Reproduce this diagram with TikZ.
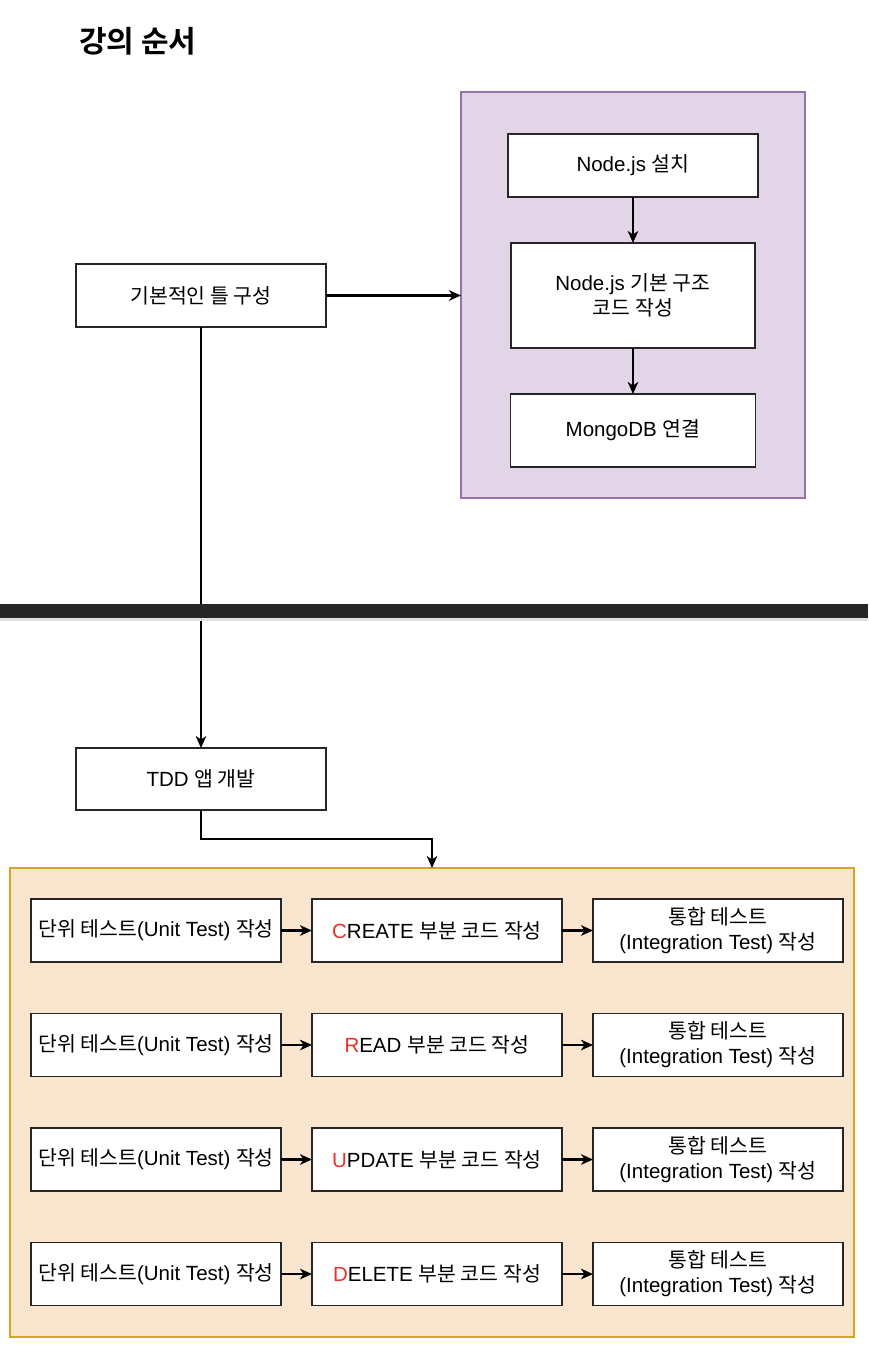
\documentclass[tikz,border=0pt]{standalone}
\usepackage{fontspec}
\setmainfont{Liberation Sans}
\newfontfamily\krfont{Noto Sans CJK KR}
\newfontfamily\krboldfont{Noto Sans CJK KR Bold}
\newcommand{\kr}[1]{{\krfont #1}}
\usetikzlibrary{arrows.meta}
\definecolor{purplefill}{HTML}{E1D5E7}
\definecolor{purpleline}{HTML}{9673A6}
\definecolor{orangefill}{HTML}{FAE6CE}
\definecolor{orangeline}{HTML}{D7A22A}
\definecolor{barcol}{HTML}{262626}
\definecolor{redletter}{HTML}{E6322A}
\tikzset{
  box/.style={draw=black!85, line width=1.1pt, fill=white, inner sep=0pt, outer sep=0pt,
    minimum width=250pt, minimum height=63pt, align=center,
    font=\fontsize{20.5}{25}\selectfont},
  container/.style={inner sep=0pt, outer sep=0pt, line width=1.1pt},
  conn/.style={line width=2.2pt, -{Stealth[length=12pt,width=10.5pt,inset=3.5pt]}},
}
\newcommand{\rl}[1]{\textcolor{redletter}{#1}}
\begin{document}
\begin{tikzpicture}[x=1pt,y=-1pt]
\useasboundingbox (0,0) rectangle (868,1354);
\fill[white] (0,0) rectangle (868,1354);

% title
\node[font=\krboldfont\fontsize{30}{34}\selectfont, anchor=west, inner sep=0pt] (title) at (79,41) {강의 순서};

% purple container
\node[container, draw=purpleline, fill=purplefill, minimum width=344pt, minimum height=406pt] (purple) at (633,295) {};
\node[box] (install) at (633,165.5) {Node.js \kr{설치}};
\node[box, minimum width=244pt, minimum height=105pt] (struct) at (633,295.5) {Node.js \kr{기본 구조}\\\kr{코드 작성}};
\node[box, minimum width=245pt, minimum height=73pt] (mongo) at (633,430.5) {MongoDB \kr{연결}};
\draw[conn] (install) -- (struct);
\draw[conn] (struct) -- (mongo);

% base
\node[box, minimum height=63pt] (base) at (201,295.5) {\kr{기본적인 틀 구성}};
\draw[conn] (base.east) -- (purple.west |- base.east);

% TDD
\node[box, minimum height=62pt] (tdd) at (201,779) {TDD \kr{앱 개발}};
\draw[conn] (base.south) -- (tdd.north);

% bar
\fill[black!12] (0,618) rectangle (868,620.5);
\node[inner sep=0pt, outer sep=0pt, fill=barcol, minimum width=868pt, minimum height=14pt] (bar) at (434,611) {};

% orange container
\node[container, draw=orangeline, fill=orangefill, minimum width=844pt, minimum height=469pt] (orange) at (432,1102.5) {};
\coordinate (bend) at (432,839);
\draw[conn] (tdd.south) |- (bend) -- (orange.north);

% rows
\foreach \i/\y/\w in {1/930.5/{\rl{C}REATE}, 2/1045/{\rl{R}EAD}, 3/1159.5/{\rl{U}PDATE}, 4/1274/{\rl{D}ELETE}} {
  \node[box] (unit\i) at (156,\y) {\kr{단위 테스트}(Unit Test) \kr{작성}};
  \node[box] (code\i) at (437,\y) {\w{} \kr{부분 코드 작성}};
  \node[box] (integ\i) at (718,\y) {\kr{통합 테스트}\\(Integration Test) \kr{작성}};
  \draw[conn] (unit\i) -- (code\i);
  \draw[conn] (code\i) -- (integ\i);
}
\end{tikzpicture}
\end{document}
